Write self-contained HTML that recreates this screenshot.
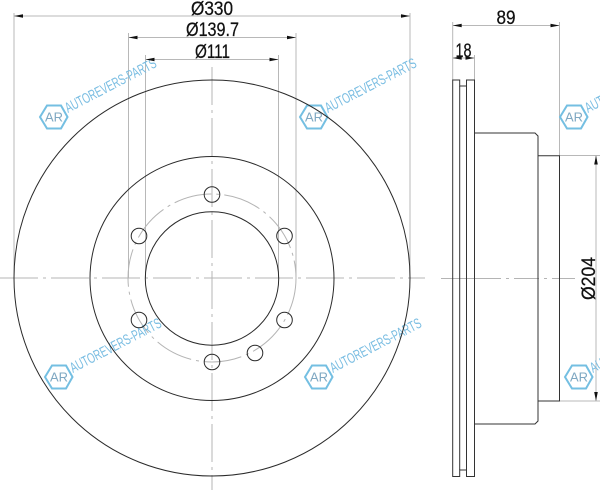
<!DOCTYPE html>
<html><head><meta charset="utf-8">
<style>html,body{margin:0;padding:0;background:#fff;width:600px;height:490px;overflow:hidden}svg{display:block}</style>
</head><body>
<svg width="600" height="490" viewBox="0 0 600 490" xmlns="http://www.w3.org/2000/svg">
<defs>
<g id="wm">
<path d="M-14,0 L-7,-11.500 L7,-11.500 L13.500,0 L7,11.500 L-7,11.500 Z" fill="none" stroke="#74bfe2" stroke-width="2"/>
<text x="-9" y="4.500" font-family="Liberation Sans, sans-serif" font-size="13" fill="#7fa8c2" textLength="18" lengthAdjust="spacingAndGlyphs">AR</text>
<text transform="translate(14,-4) rotate(-27.500)" x="0" y="0" font-family="Liberation Sans, sans-serif" font-size="14.500" fill="#79bde2" textLength="101" lengthAdjust="spacingAndGlyphs">AUTOREVERS-PARTS</text>
</g>
<g id="ah"><path d="M0,0 L9,-1.800 L9,1.800 Z" fill="#111"/></g>
</defs>

<!-- light extension and dimension lines -->
<g stroke="#b8b8b8" stroke-width="1" fill="none">
<path d="M14,13V278M410,13V278M128.500,33V278M296,33V278M145.500,55V278M278.500,55V278"/>
<path d="M14,16H410M128.500,37.500H296M145.500,59.500H278.500"/>
<path d="M452.700,22V80M559.500,22V156M474.500,55V133M452.700,25.500H559.500M452.700,58H474.500"/>
<path d="M559,155.500H600M559,401H600M596,155.500V401"/>
</g>

<!-- centre lines -->
<g stroke="#b4b4b4" stroke-width="1" fill="none">
<path d="M212,67V490" stroke-dasharray="38 5 3 5"/>
<path d="M0,278H425" stroke-dasharray="38 5 3 5"/>
<path d="M441,278.500H575" stroke-dasharray="60 5 3 5 25 5 3 5"/>
<circle cx="212" cy="278" r="84" stroke-dasharray="38 5 3 5"/>
</g>

<!-- watermarks -->
<use href="#wm" x="54" y="117"/>
<use href="#wm" x="314" y="117"/>
<use href="#wm" x="574" y="117"/>
<use href="#wm" x="59" y="377"/>
<use href="#wm" x="319" y="377"/>
<use href="#wm" x="579" y="377"/>

<!-- disc front view -->
<g stroke="#2a2a2a" stroke-width="1" fill="none">
<circle cx="212" cy="278" r="198"/>
<circle cx="212" cy="278.500" r="122"/>
<circle cx="212" cy="278.500" r="66.700"/>
<circle cx="212" cy="194.500" r="7.800"/>
<circle cx="139" cy="236" r="7.800"/>
<circle cx="284.500" cy="236" r="7.800"/>
<circle cx="139" cy="320" r="7.800"/>
<circle cx="284.500" cy="320" r="7.800"/>
<circle cx="212" cy="362" r="7.800"/>
<circle cx="255" cy="353" r="7.800"/>
</g>

<!-- side view -->
<g stroke="#333" stroke-width="1" fill="none">
<path d="M452.700,80H459.700V86H466.500V80H474.500V476.500H466.500V470H459.700V476.500H452.700Z"/>
<path d="M459.700,86V470M466.500,86V470"/>
<path d="M474.500,133H535L538,136V421L535,424H474.500"/>
<path d="M538,155.700H559.500V401H538"/>
</g>

<!-- arrowheads -->
<use href="#ah" transform="translate(14,16)"/>
<use href="#ah" transform="translate(410,16) rotate(180)"/>
<use href="#ah" transform="translate(128.500,37.500)"/>
<use href="#ah" transform="translate(296,37.500) rotate(180)"/>
<use href="#ah" transform="translate(145.500,59.500)"/>
<use href="#ah" transform="translate(278.500,59.500) rotate(180)"/>
<use href="#ah" transform="translate(452.700,25.500)"/>
<use href="#ah" transform="translate(559.500,25.500) rotate(180)"/>
<use href="#ah" transform="translate(452.700,58)"/>
<use href="#ah" transform="translate(474.500,58) rotate(180)"/>
<use href="#ah" transform="translate(596,155.500) rotate(90)"/>
<use href="#ah" transform="translate(596,401) rotate(-90)"/>

<!-- labels -->
<g font-family="Liberation Sans, sans-serif" font-size="19" fill="#111" stroke="#111" stroke-width="0.25">
<text x="191" y="15" textLength="42" lengthAdjust="spacingAndGlyphs">Ø330</text>
<text x="186" y="36" textLength="53" lengthAdjust="spacingAndGlyphs">Ø139.7</text>
<text x="195" y="58" textLength="35" lengthAdjust="spacingAndGlyphs">Ø111</text>
<text x="496.500" y="24" textLength="19" lengthAdjust="spacingAndGlyphs">89</text>
<text x="455.500" y="57" textLength="16" lengthAdjust="spacingAndGlyphs">18</text>
<text transform="translate(595,300) rotate(-90)" x="0" y="0" textLength="43" lengthAdjust="spacingAndGlyphs">Ø204</text>
</g>
</svg>
</body></html>
